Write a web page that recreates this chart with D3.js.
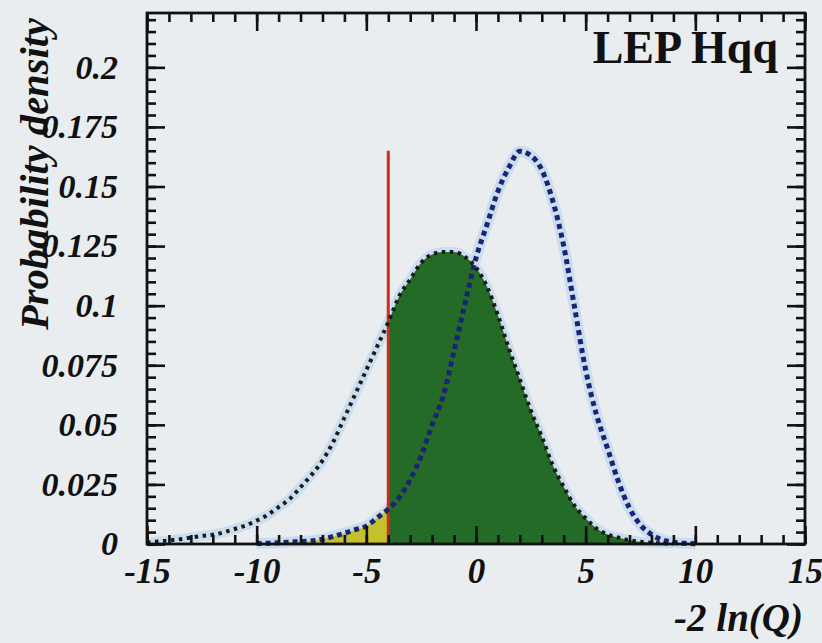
<!DOCTYPE html>
<html>
<head>
<meta charset="utf-8">
<script src="https://cdn.jsdelivr.net/npm/d3@7"></script>
<style>
  html, body { margin: 0; padding: 0; background: #eaedf0; }
  svg { display: block; }
</style>
</head>
<body>
<svg id="chart" width="822" height="643"></svg>
<script>
// ---- data ----
const xTickValues = [-15, -10, -5, 0, 5, 10, 15];
const xTickLabels = ["-15", "-10", "-5", "0", "5", "10", "15"];
const yTickValues = [0, 0.025, 0.05, 0.075, 0.1, 0.125, 0.15, 0.175, 0.2];
const yTickLabels = ["0", "0.025", "0.05", "0.075", "0.1", "0.125", "0.15", "0.175", "0.2"];

// signal+background hypothesis (black dotted)
const sbX = [-15, -14.5, -14, -13.5, -13, -12.5, -12, -11.5, -11, -10.5, -10, -9.5, -9, -8.5, -8, -7.5, -7, -6.5, -6, -5.5, -5, -4.5, -4, -3.5, -3, -2.5, -2, -1.5, -1, -0.5, 0, 0.5, 1, 1.5, 2, 2.5, 3, 3.5, 4, 4.5, 5, 5.5, 6, 6.5, 7, 7.5, 8, 8.5, 9];
const sbY = [0.0007, 0.001, 0.0015, 0.002, 0.0027, 0.0034, 0.0039, 0.0049, 0.0063, 0.0078, 0.0098, 0.0122, 0.0155, 0.0188, 0.0238, 0.029, 0.035, 0.043, 0.053, 0.063, 0.073, 0.083, 0.093, 0.104, 0.111, 0.118, 0.1215, 0.1225, 0.1225, 0.1205, 0.116, 0.108, 0.096, 0.082, 0.069, 0.056, 0.045, 0.033, 0.024, 0.016, 0.0108, 0.0065, 0.004, 0.0027, 0.0016, 0.0009, 0.0005, 0.0003, 0.0002];

// background-only hypothesis (blue dashed)
const bX = [-10, -9.5, -9, -8.5, -8, -7.5, -7, -6.5, -6, -5.5, -5, -4.5, -4, -3.5, -3, -2.5, -2, -1.5, -1, -0.5, 0, 0.5, 1, 1.5, 2, 2.5, 3, 3.5, 4, 4.5, 5, 5.5, 6, 6.5, 7, 7.5, 8, 8.5, 9, 9.5, 10];
const bY = [0.0002, 0.0003, 0.0005, 0.0008, 0.001, 0.0013, 0.002, 0.0032, 0.0045, 0.006, 0.0075, 0.011, 0.0146, 0.0195, 0.027, 0.037, 0.05, 0.062, 0.081, 0.101, 0.12, 0.134, 0.148, 0.158, 0.1648, 0.163, 0.157, 0.144, 0.125, 0.099, 0.073, 0.054, 0.040, 0.026, 0.015, 0.008, 0.004, 0.0017, 0.0007, 0.0003, 0.0001];

const observed = -4.0;
const observedTop = 0.165;

const title = "LEP Hqq";
const xTitle = "-2 ln(Q)";
const yTitle = "Probability density";

// ---- layout ----
const svg = d3.select("#chart");
const L = 147, R = 805, T = 13, B = 544;
const x = d3.scaleLinear().domain([-15, 15]).range([L, R]);
const y = d3.scaleLinear().domain([0, 0.2228]).range([B, T]);

const sb = sbX.map((v, i) => ({x: v, y: sbY[i]}));
const bg = bX.map((v, i) => ({x: v, y: bY[i]}));

const line = d3.line().x(d => x(d.x)).y(d => y(d.y)).curve(d3.curveMonotoneX);
const area = d3.area().x(d => x(d.x)).y0(y(0)).y1(d => y(d.y)).curve(d3.curveMonotoneX);

// halos (scan glow)
svg.append("path").datum(sb).attr("d", line)
  .attr("fill", "none").attr("stroke", "#c6dcee").attr("stroke-width", 10).attr("opacity", 0.9);
svg.append("path").datum(bg).attr("d", line)
  .attr("fill", "none").attr("stroke", "#c6dcee").attr("stroke-width", 11).attr("opacity", 0.9);

// fills
svg.append("path").datum(bg.filter(d => d.x <= observed)).attr("d", area)
  .attr("fill", "#c4c22c");
svg.append("path").datum(sb.filter(d => d.x >= observed)).attr("d", area)
  .attr("fill", "#236b26");

// observed line
svg.append("line")
  .attr("x1", x(observed)).attr("x2", x(observed))
  .attr("y1", y(0)).attr("y2", y(observedTop))
  .attr("stroke", "#d22a1c").attr("stroke-width", 3);

// curves
svg.append("path").datum(bg).attr("d", line)
  .attr("fill", "none").attr("stroke", "#1b2378").attr("stroke-width", 5)
  .attr("stroke-dasharray", "5 4");
svg.append("path").datum(sb).attr("d", line)
  .attr("fill", "none").attr("stroke", "#1a1a1a").attr("stroke-width", 4)
  .attr("stroke-dasharray", "3.5 4.5");

// frame
svg.append("rect").attr("x", L).attr("y", T).attr("width", R - L).attr("height", B - T)
  .attr("fill", "none").attr("stroke", "#111").attr("stroke-width", 2.8);

function styleAxis(g) {
  g.select(".domain").remove();
  g.selectAll(".tick line").attr("stroke", "#111").attr("stroke-width", 2.6);
}

const xMinor = d3.range(-15, 15.01, 1);
const yMinor = d3.range(0, 0.2226, 0.005);

// bottom
svg.append("g").attr("transform", `translate(0,${B})`)
  .call(d3.axisBottom(x).tickValues(xMinor).tickSize(-9).tickFormat(""))
  .call(styleAxis);
svg.append("g").attr("transform", `translate(0,${B})`)
  .call(d3.axisBottom(x).tickValues(xTickValues).tickSize(-18).tickPadding(14)
    .tickFormat((d, i) => xTickLabels[i]))
  .call(styleAxis)
  .call(g => g.selectAll("text").style("font", "bold italic 35px 'Liberation Serif', serif").attr("fill", "#111"));
// top
svg.append("g").attr("transform", `translate(0,${T})`)
  .call(d3.axisTop(x).tickValues(xMinor).tickSize(-9).tickFormat(""))
  .call(styleAxis);
svg.append("g").attr("transform", `translate(0,${T})`)
  .call(d3.axisTop(x).tickValues(xTickValues).tickSize(-18).tickFormat(""))
  .call(styleAxis);
// left
svg.append("g").attr("transform", `translate(${L},0)`)
  .call(d3.axisLeft(y).tickValues(yMinor).tickSize(-9).tickFormat(""))
  .call(styleAxis);
svg.append("g").attr("transform", `translate(${L},0)`)
  .call(d3.axisLeft(y).tickValues(yTickValues).tickSize(-18).tickPadding(29)
    .tickFormat((d, i) => yTickLabels[i]))
  .call(styleAxis)
  .call(g => g.selectAll("text").style("font", "bold italic 34px 'Liberation Serif', serif").attr("fill", "#111"));
// right
svg.append("g").attr("transform", `translate(${R},0)`)
  .call(d3.axisRight(y).tickValues(yMinor).tickSize(-9).tickFormat(""))
  .call(styleAxis);
svg.append("g").attr("transform", `translate(${R},0)`)
  .call(d3.axisRight(y).tickValues(yTickValues).tickSize(-18).tickFormat(""))
  .call(styleAxis);

// titles
svg.append("text").attr("x", 778).attr("y", 63).attr("text-anchor", "end")
  .style("font", "bold 46px 'Liberation Serif', serif").attr("fill", "#111").text(title);

svg.append("text").attr("x", 803).attr("y", 631).attr("text-anchor", "end")
  .style("font", "bold italic 39px 'Liberation Serif', serif").attr("fill", "#111").text(xTitle);

svg.append("text").attr("transform", "translate(48,330) rotate(-90)")
  .attr("text-anchor", "start").attr("textLength", 312).attr("lengthAdjust", "spacingAndGlyphs")
  .style("font", "bold italic 40px 'Liberation Serif', serif").attr("fill", "#111").text(yTitle);
</script>
</body>
</html>
